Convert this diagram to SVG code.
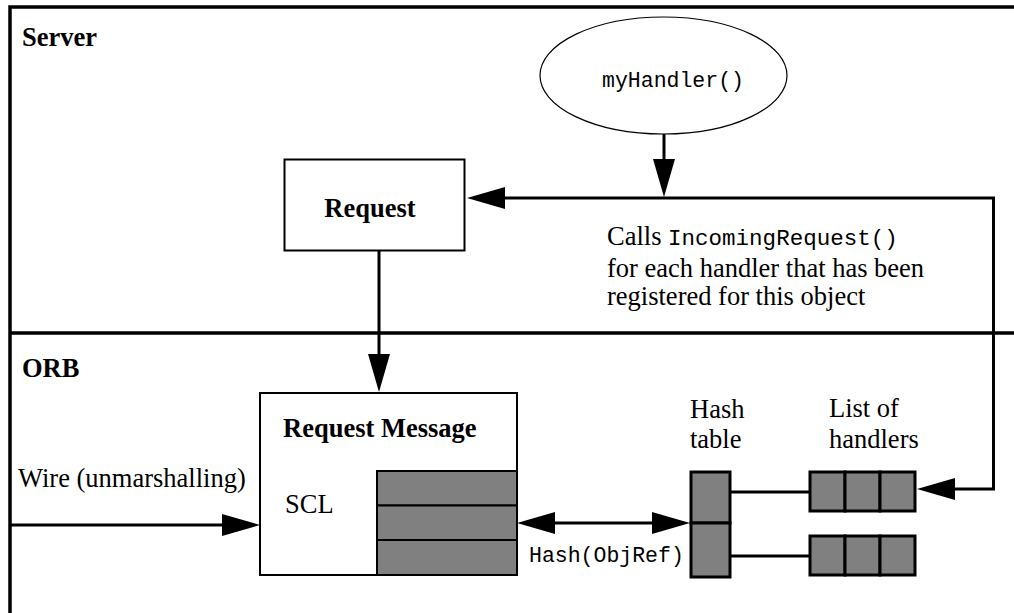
<svg xmlns="http://www.w3.org/2000/svg" width="1014" height="613" viewBox="0 0 1014 613">
  <style>
    .serif { font-family: "Liberation Serif", "Times New Roman", serif; font-size: 26.5px; fill: #000; }
    .bold { font-weight: bold; }
    .mono { font-family: "Liberation Mono", "Courier New", monospace; font-size: 21.5px; fill: #000; }
    .frame { fill: none; stroke: #000; stroke-width: 3.5; }
    .box { fill: #fff; stroke: #000; stroke-width: 2; }
    .gray { fill: #808080; stroke: #000; stroke-width: 2; }
    .cell { fill: #808080; stroke: #000; stroke-width: 3; }
    .conn { fill: none; stroke: #000; stroke-width: 3; stroke-linejoin: miter; }
  </style>
  <defs>
    <marker id="arrow" markerUnits="userSpaceOnUse" markerWidth="38" markerHeight="22" refX="28" refY="11" orient="auto-start-reverse">
      <path d="M0,0 L38,11 L0,22 z" fill="#000"/>
    </marker>
  </defs>
  <rect x="0" y="0" width="1014" height="613" fill="#fff"/>

  <g id="frame">
    <path class="frame" d="M10,613 L10,7 L1014,7 M10,333 L1014,333"/>
  </g>

  <g id="server-label">
    <text class="serif bold" x="22" y="46">Server</text>
  </g>
  <g id="orb-label">
    <text class="serif bold" x="22" y="377">ORB</text>
  </g>

  <g id="myHandler">
    <ellipse cx="663.5" cy="75.5" rx="123.5" ry="58.5" fill="#fff" stroke="#000" stroke-width="1.2"/>
    <text class="mono" x="673" y="87" text-anchor="middle">myHandler()</text>
  </g>

  <g id="request">
    <rect class="box" x="284.5" y="159.5" width="180" height="91"/>
    <text class="serif bold" x="370" y="217" text-anchor="middle">Request</text>
  </g>

  <g id="calls-note">
    <text class="serif" x="607" y="245">Calls <tspan class="mono" style="font-size:22.5px">IncomingRequest()</tspan></text>
    <text class="serif" x="607" y="277">for each handler that has been</text>
    <text class="serif" x="607" y="305">registered for this object</text>
  </g>

  <g id="wire-label">
    <text class="serif" x="18" y="487">Wire (unmarshalling)</text>
  </g>

  <g id="request-message">
    <rect class="box" x="260" y="393" width="257" height="182"/>
    <text class="serif bold" x="283" y="437">Request Message</text>
    <text class="serif" x="285" y="513">SCL</text>
    <rect class="gray" x="377" y="471" width="140" height="34.5"/>
    <rect class="gray" x="377" y="505.5" width="140" height="34.5"/>
    <rect class="gray" x="377" y="540" width="140" height="35"/>
  </g>

  <g id="hash-table">
    <text class="serif" x="690" y="418">Hash</text>
    <text class="serif" x="690" y="448">table</text>
    <rect class="cell" x="691" y="472" width="39" height="51"/>
    <rect class="cell" x="691" y="523" width="39" height="54"/>
  </g>

  <g id="handler-list-1">
    <text class="serif" x="829" y="417">List of</text>
    <text class="serif" x="829" y="448">handlers</text>
    <rect class="cell" x="810" y="472" width="35" height="39"/>
    <rect class="cell" x="845" y="472" width="35" height="39"/>
    <rect class="cell" x="880" y="472" width="35" height="39"/>
  </g>

  <g id="handler-list-2">
    <rect class="cell" x="810" y="536" width="35" height="39"/>
    <rect class="cell" x="845" y="536" width="35" height="39"/>
    <rect class="cell" x="880" y="536" width="35" height="39"/>
  </g>

  <g id="connectors">
    <path class="conn" d="M664,134 L664,187" marker-end="url(#arrow)"/>
    <path class="conn" d="M927,489 L993.5,489 L993.5,198 L477,198" marker-start="url(#arrow)" marker-end="url(#arrow)"/>
    <path class="conn" d="M379,251 L379,382" marker-end="url(#arrow)"/>
    <path class="conn" d="M10,525 L250,525" marker-end="url(#arrow)"/>
    <path class="conn" d="M527,523 L680,523" marker-start="url(#arrow)" marker-end="url(#arrow)"/>
    <path class="conn" d="M730,492 L810,492"/>
    <path class="conn" d="M730,556 L810,556"/>
    <text class="mono" x="529" y="562">Hash(ObjRef)</text>
  </g>
</svg>
